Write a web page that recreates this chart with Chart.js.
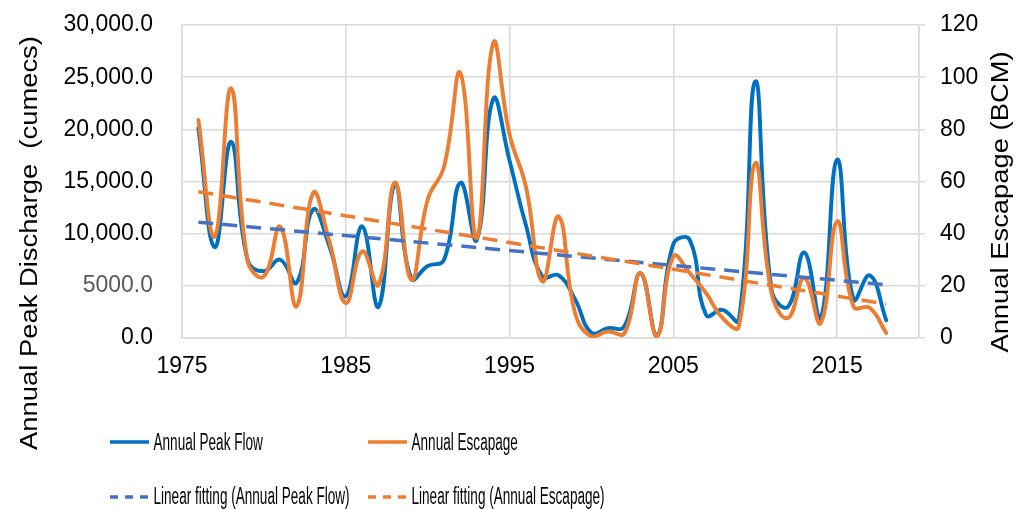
<!DOCTYPE html>
<html><head><meta charset="utf-8">
<script src="https://cdn.jsdelivr.net/npm/chart.js@4/dist/chart.umd.min.js"></script>
<style>html,body{margin:0;padding:0;background:#fff;} canvas{display:block;}</style>
</head><body>
<canvas id="c" width="1024" height="509" style="width:1024px;height:509px"></canvas>
<script>
const years = [1976,1977,1978,1979,1980,1981,1982,1983,1984,1985,1986,1987,1988,1989,1990,1991,1992,1993,1994,1995,1996,1997,1998,1999,2000,2001,2002,2003,2004,2005,2006,2007,2008,2009,2010,2011,2012,2013,2014,2015,2016,2017,2018];
const peakFlow = [20100,8700,18800,7500,6400,7500,5300,12300,8800,4000,10700,3000,14700,5700,6900,7500,14900,9400,22900,17000,10800,5900,6000,3700,500,950,1100,6200,200,9000,9400,2200,2700,1700,24600,4600,3000,8200,1900,17100,3700,6000,1700];
const escapage = [83.6,38.9,95.7,29.7,23.6,42.7,12.1,55.5,37,13.4,33.2,20.4,59.6,22.3,53,65.7,101.5,38.3,113,78,58,21.7,46.6,9.6,0.6,2.5,1.6,24.9,0.6,31.3,24.9,17.2,7.7,4.4,67,17.2,7.7,23,5.7,44.7,12.1,11.5,1.9];
const trendYears = [1976, 2018];
const trendPeakFlow = [11100, 5100];
const trendEscapage = [56.1, 13.0];
const xTickValues = [1975, 1985, 1995, 2005, 2015, 2020];
const xTickLabels = ['1975', '1985', '1995', '2005', '2015', ''];
const seriesNames = ['Annual Peak Flow', 'Annual Escapage', 'Linear fitting (Annual Peak Flow)', 'Linear fitting (Annual Escapage)'];
const leftTitle = 'Annual Peak Discharge  (cumecs)';
const rightTitle = 'Annual Escapage (BCM)';

const FONT = '"Liberation Sans", Arial, sans-serif';
const GRID = '#d9d9d9';

const pts = (xs, ys) => xs.map((x, i) => ({x: x, y: ys[i]}));

const overlay = {
  id: 'overlay',
  afterDraw(chart) {
    const ctx = chart.ctx;
    ctx.save();
    ctx.fillStyle = '#000';
    ctx.font = '23px ' + FONT;
    ctx.textAlign = 'center';
    ctx.textBaseline = 'alphabetic';
    ctx.save(); ctx.translate(37, 243); ctx.rotate(-Math.PI / 2); ctx.scale(1.19, 1); ctx.fillText(leftTitle, 0, 0); ctx.restore();
    ctx.save(); ctx.translate(1008, 202); ctx.rotate(-Math.PI / 2); ctx.scale(1.19, 1); ctx.fillText(rightTitle, 0, 0); ctx.restore();
    const items = [
      {ds: 0, x: 110, y: 442, ty: 450},
      {ds: 1, x: 368, y: 442, ty: 450},
      {ds: 2, x: 110, y: 497, ty: 504},
      {ds: 3, x: 368, y: 497, ty: 504}
    ];
    ctx.font = '23px ' + FONT;
    ctx.textAlign = 'left';
    items.forEach(it => {
      const ds = chart.data.datasets[it.ds];
      ctx.save();
      ctx.strokeStyle = ds.borderColor;
      ctx.lineWidth = 3.5;
      ctx.lineCap = 'butt';
      ctx.setLineDash(ds.borderDash ? [8, 7] : []);
      ctx.beginPath(); ctx.moveTo(it.x, it.y); ctx.lineTo(it.x + 39, it.y); ctx.stroke();
      ctx.restore();
      ctx.save(); ctx.translate(it.x + 43.5, it.ty); ctx.scale(0.59, 1); ctx.fillText(ds.label, 0, 0); ctx.restore();
    });
    ctx.restore();
  }
};

new Chart(document.getElementById('c'), {
  type: 'line',
  data: {
    datasets: [
      {label: seriesNames[0], data: pts(years, peakFlow), yAxisID: 'y', borderColor: '#0070C0', borderWidth: 3.9, tension: 0.45, pointRadius: 0, order: 4, borderCapStyle: 'round'},
      {label: seriesNames[1], data: pts(years, escapage), yAxisID: 'y1', borderColor: '#ED7D31', borderWidth: 3.9, tension: 0.45, pointRadius: 0, order: 3, borderCapStyle: 'round'},
      {label: seriesNames[2], data: pts(trendYears, trendPeakFlow), yAxisID: 'y', borderColor: '#4472C4', borderWidth: 3.5, borderDash: [15, 9], pointRadius: 0, order: 2},
      {label: seriesNames[3], data: pts(trendYears, trendEscapage), yAxisID: 'y1', borderColor: '#ED7D31', borderWidth: 3.5, borderDash: [15, 9], pointRadius: 0, order: 1}
    ]
  },
  options: {
    responsive: false,
    animation: false,
    devicePixelRatio: 1,
    layout: {padding: {top: 25, left: 0, right: 0, bottom: 0}},
    plugins: {legend: {display: false}, tooltip: {enabled: false}},
    scales: {
      x: {
        type: 'linear', min: 1975, max: 2020,
        afterBuildTicks: s => { s.ticks = xTickValues.map(v => ({value: v})); },
        afterFit: s => { s.height = 171; },
        ticks: {
          callback: (v) => xTickLabels[xTickValues.indexOf(v)],
          font: {family: FONT, size: 23}, color: '#000', padding: 15, maxRotation: 0, autoSkip: false
        },
        grid: {color: GRID, lineWidth: 1.5, drawTicks: false},
        border: {color: GRID, width: 1.5}
      },
      y: {
        position: 'left', min: 0, max: 30000,
        afterBuildTicks: s => { s.ticks = [0, 5000, 10000, 15000, 20000, 25000, 30000].map(v => ({value: v})); },
        afterFit: s => { s.width = 182; },
        ticks: {
          callback: v => v >= 10000 ? v.toLocaleString('en-US', {minimumFractionDigits: 1, maximumFractionDigits: 1}) : v.toFixed(1),
          font: {family: FONT, size: 23, lineHeight: 0.8},
          color: c => c.tick && c.tick.value === 5000 ? '#595959' : '#000',
          padding: 3
        },
        grid: {color: GRID, lineWidth: 1.5, drawTicks: true, tickLength: 26, tickColor: 'rgba(0,0,0,0)'},
        border: {color: GRID, width: 1.5}
      },
      y1: {
        position: 'right', min: 0, max: 120,
        afterBuildTicks: s => { s.ticks = [0, 20, 40, 60, 80, 100, 120].map(v => ({value: v})); },
        afterFit: s => { s.width = 105; },
        ticks: {font: {family: FONT, size: 23, lineHeight: 0.8}, color: '#000', padding: 15},
        grid: {drawOnChartArea: false, color: GRID, lineWidth: 1.5, tickLength: 6},
        border: {color: GRID, width: 1.5}
      }
    }
  },
  plugins: [overlay]
});
</script>
</body></html>
